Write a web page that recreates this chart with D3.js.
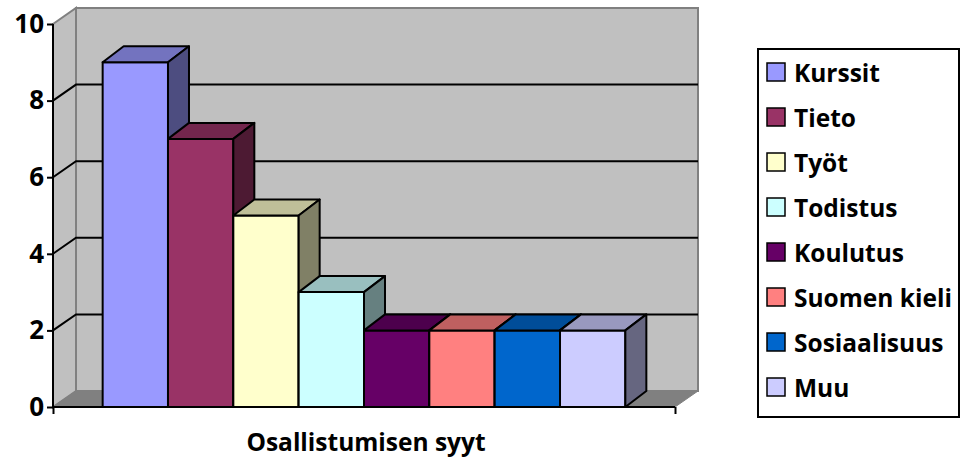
<!DOCTYPE html>
<html>
<head>
<meta charset="utf-8">
<script src="https://cdn.jsdelivr.net/npm/d3@7/dist/d3.min.js"></script>
<style>
  html, body { margin: 0; padding: 0; background: #fff; }
  svg { display: block; }
  text { font-family: "Open Sans", Lato, sans-serif; font-weight: bold; fill: #000; }
</style>
</head>
<body>
<svg id="chart" width="961" height="459"></svg>
<script>
// ---- data ----
const seriesNames = ["Kurssit", "Tieto", "Työt", "Todistus", "Koulutus", "Suomen kieli", "Sosiaalisuus", "Muu"];
const seriesValues = [9, 7, 5, 3, 2, 2, 2, 2];
const seriesColors = ["#9999FF", "#993366", "#FFFFCC", "#CCFFFF", "#660066", "#FF8080", "#0066CC", "#CCCCFF"];
const yTicks = [0, 2, 4, 6, 8, 10];
const categoryTitle = "Osallistumisen syyt";

// ---- layout ----
const svg = d3.select("#chart");
const x0 = 53, x1 = 675, yBase = 407, yTop = 24;
const wallDx = 23, wallDy = -16;
const barDx = 21, barDy = -16;

const y = d3.scaleLinear().domain([0, 10]).range([yBase, yTop]);
const x = d3.scaleBand().domain(seriesNames).range([x0, x1]).paddingInner(0).paddingOuter(0.76);

const shade = (c, k) => { const r = d3.rgb(c); return d3.rgb(r.r * k, r.g * k, r.b * k).toString(); };

// side wall
svg.append("polygon")
  .attr("points", [[x0, y(10)], [x0 + wallDx, y(10) + wallDy], [x0 + wallDx, yBase + wallDy], [x0, yBase]].join(" "))
  .attr("fill", "#c0c0c0").attr("stroke", "#808080").attr("stroke-width", 2);
// back wall
svg.append("rect")
  .attr("x", x0 + wallDx).attr("y", y(10) + wallDy)
  .attr("width", x1 - x0).attr("height", yBase - y(10))
  .attr("fill", "#c0c0c0").attr("stroke", "#808080").attr("stroke-width", 2);
// floor
svg.append("polygon")
  .attr("points", [[x0, yBase], [x1, yBase], [x1 + wallDx, yBase + wallDy], [x0 + wallDx, yBase + wallDy]].join(" "))
  .attr("fill", "#808080").attr("stroke", "#808080").attr("stroke-width", 1);

// gridlines
const grid = yTicks.filter(v => v > 0 && v < 10);
svg.append("g").selectAll("path").data(grid).join("path")
  .attr("d", v => `M${x0},${y(v)}L${x0 + wallDx},${y(v) + wallDy}L${x1 + wallDx},${y(v) + wallDy}`)
  .attr("fill", "none").attr("stroke", "#000").attr("stroke-width", 2);

// bars
const bars = svg.append("g");
seriesNames.forEach((name, i) => {
  const v = seriesValues[i];
  const L = x(name), R = x(name) + x.bandwidth();
  const T = y(v), B = y(0);
  const g = bars.append("g");
  g.append("polygon")
    .attr("points", [[L, T], [R, T], [R, B], [L, B]].join(" "))
    .attr("fill", seriesColors[i]).attr("stroke", "#000").attr("stroke-width", 2).attr("stroke-linejoin", "round");
  g.append("polygon")
    .attr("points", [[L, T], [L + barDx, T + barDy], [R + barDx, T + barDy], [R, T]].join(" "))
    .attr("fill", shade(seriesColors[i], 0.75)).attr("stroke", "#000").attr("stroke-width", 2).attr("stroke-linejoin", "round");
  g.append("polygon")
    .attr("points", [[R, T], [R + barDx, T + barDy], [R + barDx, B + barDy], [R, B]].join(" "))
    .attr("fill", shade(seriesColors[i], 0.5)).attr("stroke", "#000").attr("stroke-width", 2).attr("stroke-linejoin", "round");
});

// y axis
const yAxis = svg.append("g").attr("transform", `translate(${x0},0)`)
  .call(d3.axisLeft(y).tickValues(yTicks).tickSize(6).tickPadding(3).tickFormat(d3.format("d")));
yAxis.select(".domain").attr("stroke", "#000").attr("stroke-width", 2).attr("d", `M0,${y(10)}V${yBase}`);
yAxis.selectAll(".tick line").attr("stroke", "#000").attr("stroke-width", 2);
yAxis.selectAll(".tick text").attr("font-size", 26).attr("font-family", "'Open Sans', sans-serif").attr("font-weight", "bold").attr("fill", "#000");

// x axis
const xAxisScale = d3.scaleLinear().domain([0, 1]).range([x0, x1]);
const xAxis = svg.append("g").attr("transform", `translate(0,${yBase})`)
  .call(d3.axisBottom(xAxisScale).tickValues([0, 1]).tickSize(7).tickFormat(""));
xAxis.select(".domain").attr("stroke", "#000").attr("stroke-width", 2).attr("d", `M${x0},0H${x1}`);
xAxis.selectAll(".tick line").attr("stroke", "#000").attr("stroke-width", 2);

svg.append("text")
  .attr("x", 366).attr("y", 451)
  .attr("text-anchor", "middle").attr("font-size", 24.5)
  .text(categoryTitle);

// legend
const lg = svg.append("g");
lg.append("rect").attr("x", 758).attr("y", 49).attr("width", 201).attr("height", 368)
  .attr("fill", "#fff").attr("stroke", "#000").attr("stroke-width", 2);
const items = lg.selectAll("g.item").data(seriesNames).join("g")
  .attr("transform", (d, i) => `translate(767,${72 + i * 45})`);
items.append("rect").attr("x", 0).attr("y", -9).attr("width", 18).attr("height", 18)
  .attr("fill", (d, i) => seriesColors[i]).attr("stroke", "#000").attr("stroke-width", 1.5);
items.append("text").attr("x", 27).attr("y", 10).attr("font-size", 24.5).text(d => d);
</script>
</body>
</html>
